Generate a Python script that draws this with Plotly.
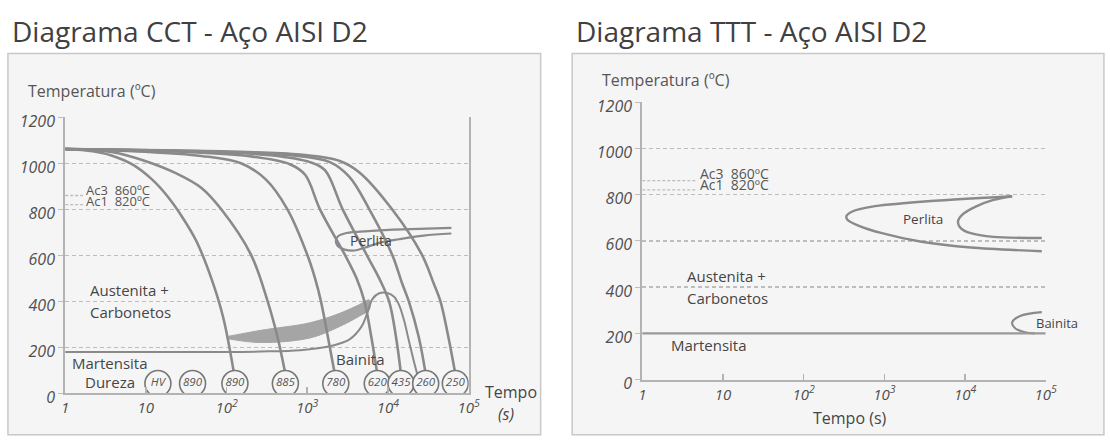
import plotly.graph_objects as go
import numpy as np

W, H = 1110, 445
def px(x): return x / W
def py(y): return 1 - y / H

# ---------------- CCT data (time s, temperature °C) ----------------
c1_t = [1, 2.2, 3.9, 6.8, 11.9, 18.2, 27.8, 42.5, 64.8, 90.9, 124]
c1_T = [1062, 1052, 1032, 995, 930, 860, 770, 660, 500, 330, 85]
c2_t = [1, 3.9, 9.8, 24.2, 48.9, 86, 200, 323, 428, 536]
c2_T = [1062, 1048, 1010, 955, 893, 800, 604, 400, 245, 85]
c3_t = [1, 11.9, 48.9, 151, 306, 568, 998, 1250, 1479, 1803, 2193]
c3_T = [1062, 1048, 1032, 1000, 930, 800, 604, 500, 400, 245, 85]
c4_t = [1, 27.8, 200, 618, 942, 1438, 2911, 4083, 5111, 6224, 7375]
c4_T = [1062, 1050, 1030, 995, 950, 800, 604, 500, 400, 245, 85]
c5_t = [1, 48.9, 352, 1084, 1656, 2749, 5408, 7800, 10340, 12590, 14510]
c5_T = [1062, 1050, 1035, 1005, 970, 800, 604, 500, 400, 245, 85]
c6_t = [1, 86, 618, 1907, 3350, 5884, 11250, 14930, 18150, 24090, 29370]
c6_T = [1062, 1050, 1035, 1005, 940, 800, 604, 480, 400, 245, 85]
c7_t = [1, 151, 819, 2529, 4438, 11250, 26240, 36730, 44770, 56090, 68390]
c7_T = [1062, 1050, 1038, 1010, 960, 800, 604, 480, 400, 245, 85]
cct_curves = [(c1_t, c1_T), (c2_t, c2_T), (c3_t, c3_T), (c4_t, c4_T),
              (c5_t, c5_T), (c6_t, c6_T), (c7_t, c7_T)]

perl_cct_t = [61090, 24090, 10340, 4438, 2911, 2389, 2259, 2389, 2911, 3855, 5111, 7800, 13710, 27730, 61090]
perl_cct_T = [719, 715, 711, 703, 695, 682, 662, 641, 625, 621, 633, 654, 670, 686, 695]

band_t = [105, 265, 1084, 2529, 4438, 5884, 5884, 4438, 2529, 1084, 265, 105]
band_T = [248, 274, 307, 348, 386, 406, 365, 336, 291, 241, 221, 237]

ms_bain_t = [1, 100, 265, 819, 1907, 3350, 4699, 5559, 6413, 7800, 9777, 11910, 13710, 15780, 18150, 20940, 23440]
ms_bain_T = [180, 180, 182, 188, 205, 235, 290, 350, 410, 435, 436, 420, 385, 320, 230, 140, 75]

hard_labels = ["HV", "890", "890", "885", "780", "620", "435", "260", "250"]
hard_t = [14.1, 37.9, 127, 536, 2259, 7375, 14510, 29370, 68390]
hard_T = [43] * len(hard_labels)

ac_t = [1, 1.66]
ac3_T = [860, 860]
ac1_T = [820, 820]

# ---------------- TTT data ----------------
perl_out_t = [89330, 11780, 2884, 935, 476, 349, 339, 402, 705, 2884, 38370]
perl_out_T = [555, 571, 596, 633, 666, 691, 707, 727, 748, 769, 793]
perl_in_t = [38370, 22490, 13550, 9397, 8166, 8892, 11780, 22490, 89330]
perl_in_T = [793, 777, 748, 715, 682, 654, 633, 617, 612]
bain_ttt_t = [89330, 48080, 38370, 41780, 55340, 73450]
bain_ttt_T = [292, 275, 247, 222, 205, 200]
ms_ttt_t = [1, 100000]
ms_ttt_T = [200, 200]
ac_ttt_t = [1, 4.7]

tick_vals = [1, 10, 100, 1000, 10000, 100000]
tick_text = ["1", "10", "10<sup>2</sup>", "10<sup>3</sup>", "10<sup>4</sup>", "10<sup>5</sup>"]
ytick_vals = [0, 200, 400, 600, 800, 1000, 1200]

LINE = "#8a8a8a"
GRID = "#bdbdbd"
AXC = "#b3b3b3"
TXT = "#454545"
BG = "#f6f5f6"
FONT = "Open Sans"

fig = go.Figure()

def line(x, y, xa, ya, w=2.6, color=LINE, dash=None, shape="spline", sm=1.0):
    fig.add_trace(go.Scatter(x=x, y=y, mode="lines", xaxis=xa, yaxis=ya,
                             line=dict(color=color, width=w, dash=dash, shape=shape, smoothing=sm),
                             hoverinfo="skip", showlegend=False))

# CCT
fig.add_trace(go.Scatter(x=band_t, y=band_T, mode="lines", fill="toself", fillcolor="#a5a5a5",
                         line=dict(color="#a5a5a5", width=1, shape="spline"), xaxis="x", yaxis="y",
                         hoverinfo="skip", showlegend=False))
for t, T in cct_curves:
    line(t, T, "x", "y")
line(perl_cct_t, perl_cct_T, "x", "y", w=2.2)
line(ms_bain_t, ms_bain_T, "x", "y", w=2.0)
line(ac_t, ac3_T, "x", "y", w=1.3, color=GRID, dash="3px,2px", shape="linear")
line(ac_t, ac1_T, "x", "y", w=1.3, color=GRID, dash="3px,2px", shape="linear")
fig.add_trace(go.Scatter(x=hard_t, y=hard_T, mode="markers+text", text=hard_labels,
                         textposition="middle center", xaxis="x", yaxis="y",
                         marker=dict(symbol="circle", size=26, color=BG, line=dict(color="#777", width=1.6)),
                         textfont=dict(family=FONT, size=11.5, color="#555", style="italic"),
                         hoverinfo="skip", showlegend=False))

# TTT
line(perl_out_t, perl_out_T, "x2", "y2", w=2.4, sm=0.8)
line(perl_in_t, perl_in_T, "x2", "y2", w=2.4, sm=0.8)
line(bain_ttt_t, bain_ttt_T, "x2", "y2", w=2.2)
line(ms_ttt_t, ms_ttt_T, "x2", "y2", w=2.2, color="#999", shape="linear")
line(ac_ttt_t, ac3_T, "x2", "y2", w=1.3, color=GRID, dash="3px,2px", shape="linear")
line(ac_ttt_t, ac1_T, "x2", "y2", w=1.3, color=GRID, dash="3px,2px", shape="linear")

xcommon = dict(type="log", tickvals=tick_vals, ticktext=tick_text, showgrid=False, zeroline=False,
               showline=True, linecolor=AXC, linewidth=2, ticks="inside", ticklen=6, tickcolor=AXC,
               tickwidth=1.5, tickfont=dict(family=FONT, size=15, color="#505050", style="italic"),
               range=[0, 5], fixedrange=True)
ycommon = dict(range=[0, 1200], tickvals=ytick_vals, showgrid=True, gridcolor=GRID, gridwidth=1.4,
               griddash="4px,3px", zeroline=False, showline=True, linecolor=AXC, linewidth=2,
               ticks="outside", ticklen=5, tickcolor=GRID,
               tickfont=dict(family=FONT, size=16, color="#505050", style="italic"),
               ticklabelshift=4, fixedrange=True)

fig.update_layout(
    width=W, height=H, margin=dict(l=0, r=0, t=0, b=0),
    paper_bgcolor="white", plot_bgcolor="rgba(0,0,0,0)",
    xaxis=dict(domain=[px(62), px(471)], anchor="y", **xcommon),
    yaxis=dict(domain=[1 - 406.5 / H, 1 - 116 / H], anchor="x", mirror=True, **ycommon),
    xaxis2=dict(domain=[px(647), px(1056)], anchor="y2", **xcommon),
    yaxis2=dict(domain=[1 - 392 / H, 1 - 100 / H], anchor="x2", **ycommon),
    shapes=[
        dict(type="rect", xref="paper", yref="paper", x0=px(4), x1=px(544), y0=py(450), y1=py(49),
             fillcolor=BG, line=dict(color="#c8c8c8", width=1.5), layer="below"),
        dict(type="rect", xref="paper", yref="paper", x0=px(576), x1=px(1115), y0=py(450), y1=py(49),
             fillcolor=BG, line=dict(color="#c8c8c8", width=1.5), layer="below"),
    ],
)

def text(s, x, y, size=15, anchor="left", color=TXT, italic=False):
    fig.add_annotation(text=s, x=px(x), y=py(y), xref="paper", yref="paper", showarrow=False,
                       xanchor=anchor, yanchor="middle",
                       font=dict(family=FONT, size=size, color=color, style="italic" if italic else "normal"))

# titles
text("Diagrama CCT - Aço AISI D2", 6, 25, size=28, color="#404040")
text("Diagrama TTT - Aço AISI D2", 578, 25, size=28, color="#404040")

# CCT labels
text("Temperatura (ºC)", 22, 88, size=16, color="#555")
text("Ac3  860ºC", 81, 192, size=13, color="#555")
text("Ac1  820ºC", 81, 204, size=13, color="#555")
text("Perlita", 372, 246, size=14, anchor="center")
text("Austenita +", 85, 298)
text("Carbonetos", 85, 321)
text("Martensita", 67, 374)
text("Dureza", 80, 395)
text("Bainita", 361, 370, anchor="center")
text("Tempo", 486, 405, size=16)
text("(s)", 509, 428, size=16, anchor="center", italic=True)

# TTT labels
text("Temperatura (ºC)", 604, 77, size=16, color="#555")
text("Ac3  860ºC", 703, 175, size=14, color="#555")
text("Ac1  820ºC", 703, 187, size=14, color="#555")
text("Perlita", 932, 223, size=13.5, anchor="center")
text("Austenita +", 690, 283)
text("Carbonetos", 690, 306)
text("Martensita", 674, 356)
text("Bainita", 1044, 332, size=13)
text("Tempo (s)", 858, 432, size=16, anchor="center")

fig.write_html("out.html", config={"staticPlot": True},
               post_script="document.body.style.margin='0';document.body.style.overflow='hidden';")
